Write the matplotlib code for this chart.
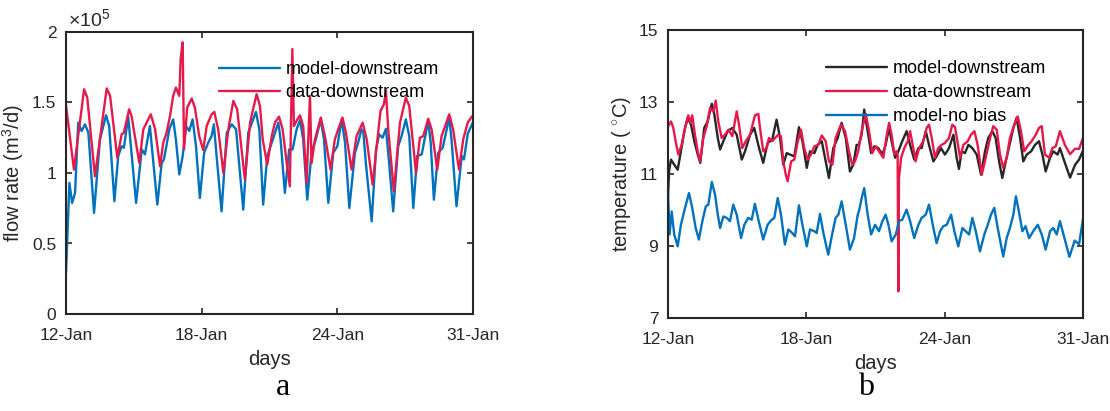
import matplotlib
matplotlib.use("Agg")
import matplotlib.pyplot as plt

plt.rcParams['font.family'] = ['Liberation Sans', 'DejaVu Sans']
plt.rcParams['mathtext.fontset'] = 'custom'
plt.rcParams['mathtext.rm'] = 'Liberation Sans'
plt.rcParams['mathtext.it'] = 'Liberation Sans:italic'

BLUE = '#0072BD'
RED = '#E6194B'
DARK = '#262626'

tick_pos = [0, 6, 12, 18]
tick_labels = ['12-Jan', '18-Jan', '24-Jan', '31-Jan']

# ---- panel a: flow rate (x1e5 m3/d), x in days from 12-Jan ----
flow_data_days = [0.0, 0.35, 0.80, 0.94, 1.28, 1.80, 1.95, 2.27, 2.46, 2.56, 2.79, 2.90,
                  3.24, 3.42, 3.75, 3.94, 4.16, 4.30, 4.45, 4.60, 4.74, 4.86, 5.01, 5.07,
                  5.16, 5.22, 5.36, 5.56, 5.70, 5.89, 6.07, 6.22, 6.44, 6.56, 6.73, 6.96,
                  7.18, 7.40, 7.57, 7.91, 8.14, 8.43, 8.58, 8.70, 8.90, 9.10, 9.24, 9.42,
                  9.58, 9.76, 9.90, 10.01, 10.08, 10.23, 10.35, 10.49, 10.64, 10.79, 10.86,
                  11.01, 11.27, 11.45, 11.70, 11.89, 12.04, 12.23, 12.38, 12.63, 12.85,
                  13.12, 13.30, 13.56, 13.74, 13.91, 14.06, 14.15, 14.25, 14.50, 14.77,
                  15.03, 15.18, 15.48, 15.65, 15.80, 16.02, 16.17, 16.42, 16.61, 16.95,
                  17.12, 17.38, 17.57, 17.77, 18.0]
flow_data = [1.48, 1.025, 1.594, 1.535, 0.977, 1.60, 1.547, 1.108, 1.274, 1.286, 1.452, 1.404,
             1.072, 1.31, 1.416, 1.31, 1.048, 1.215, 1.286, 1.404, 1.547, 1.606, 1.547, 1.808,
             1.927, 1.167, 1.464, 1.528, 1.464, 1.262, 1.162, 1.333, 1.416, 1.433, 1.31, 1.001,
             1.31, 1.511, 1.452, 0.954, 1.357, 1.559, 1.475, 1.238, 1.06, 1.262, 1.357, 1.40,
             1.31, 1.072, 0.906, 1.879, 1.333, 1.38, 1.409, 1.333, 0.93, 1.547, 1.07,
             1.238, 1.393, 1.262, 1.025, 1.238, 1.31, 1.393, 1.286, 1.025, 1.262,
             1.357, 1.238, 0.918, 1.19, 1.44, 1.488, 1.582, 1.31, 0.87, 1.357,
             1.535, 1.475, 1.001, 1.25, 1.262, 1.385, 1.31, 1.025, 1.262, 1.416,
             1.31, 1.025, 1.24, 1.36, 1.41]

flow_model_days = [0.0, 0.15, 0.27, 0.40, 0.54, 0.69, 0.84, 0.99, 1.24, 1.50, 1.65, 1.77,
                   1.91, 2.14, 2.31, 2.46, 2.56, 2.75, 3.10, 3.35, 3.49, 3.71, 4.04, 4.23,
                   4.33, 4.45, 4.57, 4.74, 4.86, 5.01, 5.16, 5.31, 5.45, 5.60, 5.75, 5.92,
                   6.11, 6.29, 6.44, 6.54, 6.66, 6.88, 7.11, 7.33, 7.52, 7.84, 8.06, 8.40,
                   8.55, 8.72, 8.90, 9.10, 9.39, 9.49, 9.68, 9.87, 10.02, 10.20, 10.35,
                   10.49, 10.67, 10.86, 11.05, 11.26, 11.41, 11.60, 11.82, 12.00, 12.19,
                   12.34, 12.53, 12.78, 12.92, 13.07, 13.15, 13.26, 13.52, 13.71, 13.85,
                   14.00, 14.15, 14.29, 14.47, 14.69, 14.84, 15.03, 15.18, 15.36, 15.53,
                   15.73, 16.02, 16.13, 16.27, 16.46, 16.66, 16.95, 17.05, 17.27, 17.50,
                   17.60, 17.77, 18.0]
flow_model = [0.29, 0.93, 0.788, 0.859, 1.357, 1.298, 1.345, 1.286, 0.717, 1.238, 1.333, 1.409,
              1.333, 0.80, 1.12, 1.19, 1.179, 1.40, 0.788, 1.167, 1.132, 1.333, 0.776, 1.07,
              1.096, 1.20, 1.31, 1.38, 1.238, 0.99, 1.12, 1.333, 1.298, 1.38, 1.19, 0.823,
              1.144, 1.215, 1.262, 1.345, 1.12, 0.728, 1.286, 1.345, 1.31, 0.74, 1.286, 1.433,
              1.31, 0.776, 1.12, 1.215, 1.357, 1.238, 0.859, 1.167, 1.167, 1.31, 1.376,
              1.238, 0.811, 1.144, 1.238, 1.38, 1.238, 0.788, 1.144, 1.19, 1.38,
              1.215, 0.752, 1.144, 1.215, 1.31, 1.29, 1.072, 0.657, 1.167, 1.274,
              1.25, 1.314, 1.072, 0.728, 1.19, 1.262, 1.38, 1.262, 0.752, 1.12,
              1.132, 1.369, 1.215, 0.811, 1.144, 1.179, 1.393, 1.238, 0.764, 1.12,
              1.096, 1.28, 1.36]

# ---- panel b: temperature (deg C) ----
temp_data_days = [0.01, 0.13, 0.23, 0.33, 0.45, 0.59, 0.74, 0.88, 0.97, 1.05, 1.17, 1.29,
                  1.39, 1.53, 1.68, 1.82, 1.97, 2.07, 2.18, 2.33, 2.47, 2.62, 2.79, 2.98,
                  3.08, 3.22, 3.37, 3.56, 3.77, 3.92, 3.99, 4.13, 4.28, 4.38, 4.52, 4.64,
                  4.78, 4.90, 5.00, 5.11, 5.19, 5.34, 5.48, 5.63, 5.77, 5.91, 6.06, 6.20,
                  6.35, 6.52, 6.67, 6.84, 6.98, 7.13, 7.27, 7.50, 7.68, 7.85, 7.99, 8.11,
                  8.25, 8.40, 8.58, 8.72, 8.86, 9.01, 9.15, 9.34, 9.49, 9.59, 9.70, 9.82,
                  9.90, 9.96, 9.99, 10.02, 10.11, 10.25, 10.40, 10.50, 10.64, 10.74, 10.89,
                  11.07, 11.22, 11.32, 11.44, 11.58, 11.72, 11.87, 12.01, 12.19, 12.33,
                  12.45, 12.67, 12.81, 13.00, 13.14, 13.29, 13.43, 13.61, 13.78, 13.97,
                  14.11, 14.26, 14.40, 14.54, 14.69, 14.83, 15.02, 15.17, 15.31, 15.45,
                  15.63, 15.77, 15.95, 16.09, 16.21, 16.35, 16.53, 16.67, 16.82, 17.00,
                  17.22, 17.44, 17.65, 17.83, 18.0]
temp_data = [12.33, 12.46, 12.28, 11.91, 11.54, 11.81, 12.28, 12.63, 12.42, 12.63, 12.09, 11.63,
             11.35, 12.0, 12.33, 12.83, 12.74, 13.04, 12.46, 12.0, 12.09, 12.23, 12.05, 12.74,
             12.37, 11.72, 11.91, 12.09, 12.63, 12.67, 12.28, 11.63, 11.72, 12.0, 11.91, 12.0,
             12.09, 12.05, 11.35, 10.98, 10.8, 11.35, 11.4, 11.91, 12.23, 11.72, 11.4, 11.54,
             11.77, 11.81, 12.07, 11.91, 11.35, 11.26, 12.0, 12.37, 12.19, 11.63, 11.26, 11.35,
             11.63, 12.19, 12.67, 12.19, 11.58, 11.77, 11.63, 11.45, 12.09, 12.42, 12.09, 11.54,
             11.63, 11.54, 7.74, 10.89, 11.45, 11.72, 11.91, 12.19, 11.72, 11.35, 11.72,
             11.91, 12.28, 12.37, 12.0, 11.45, 11.72, 11.81, 11.86, 12.0, 12.37,
             12.3, 11.45, 11.81, 11.91, 12.09, 12.19, 11.81, 10.98, 11.45, 12.0,
             12.33, 12.23, 11.54, 11.17, 11.45, 12.0, 12.37, 12.6, 12.19, 11.63,
             11.81, 11.91, 12.09, 12.28, 12.33, 11.54, 11.45, 11.72, 11.77, 12.19,
             11.8, 11.55, 11.7, 11.7, 12.0]

temp_model_days = [0.0, 0.05, 0.13, 0.27, 0.42, 0.56, 0.71, 0.85, 1.00, 1.14, 1.29, 1.40,
                   1.57, 1.72, 1.90, 2.01, 2.16, 2.26, 2.40, 2.59, 2.79, 2.98, 3.20, 3.34,
                   3.56, 3.74, 3.95, 4.13, 4.32, 4.52, 4.71, 4.86, 5.00, 5.15, 5.29, 5.48,
                   5.68, 5.83, 6.02, 6.16, 6.35, 6.49, 6.67, 6.84, 6.98, 7.17, 7.36, 7.53,
                   7.71, 7.89, 8.04, 8.18, 8.27, 8.40, 8.51, 8.66, 8.81, 8.95, 9.12, 9.30,
                   9.44, 9.59, 9.73, 9.85, 9.99, 10.16, 10.35, 10.50, 10.68, 10.86, 11.00,
                   11.18, 11.32, 11.51, 11.65, 11.84, 12.01, 12.19, 12.38, 12.52, 12.62,
                   12.74, 12.88, 13.03, 13.20, 13.39, 13.58, 13.75, 13.89, 14.07, 14.21,
                   14.36, 14.50, 14.65, 14.83, 14.98, 15.12, 15.27, 15.41, 15.56, 15.75,
                   15.92, 16.09, 16.24, 16.38, 16.57, 16.71, 16.90, 17.00, 17.22, 17.44,
                   17.65, 17.83, 18.0]
temp_model = [10.4, 11.1, 11.4, 11.26, 11.12, 11.63, 12.19, 12.56, 12.37, 11.91, 11.54, 11.31,
              12.28, 12.46, 12.95, 12.65, 12.0, 11.68, 11.91, 12.19, 12.28, 12.09, 11.4, 11.63,
              12.09, 12.28, 11.72, 11.31, 11.86, 11.95, 12.51, 12.0, 11.26, 11.58, 11.54, 11.49,
              12.3, 11.91, 11.17, 11.63, 11.58, 11.81, 11.91, 11.35, 10.89, 11.72, 12.0, 12.42,
              12.0, 11.07, 11.26, 11.81, 11.8, 12.09, 12.79, 12.19, 11.58, 11.77, 11.72, 11.54,
              11.81, 12.28, 11.81, 11.45, 11.63, 11.91, 12.19, 11.81, 11.4, 11.72, 11.72,
              12.19, 11.81, 11.35, 11.49, 11.72, 11.54, 11.72, 12.09, 11.45, 11.14,
              11.63, 11.58, 11.81, 11.72, 11.54, 10.98, 11.63, 12.0, 12.19, 12.0,
              11.35, 10.89, 11.35, 11.86, 12.28, 12.56, 12.0, 11.35, 11.54, 11.63,
              11.81, 11.91, 11.54, 11.07, 11.45, 11.63, 11.54, 11.72, 11.3, 10.9,
              11.25, 11.4, 11.65]

temp_nobias_days = [0.0, 0.07, 0.16, 0.27, 0.42, 0.56, 0.74, 0.91, 1.05, 1.20, 1.34, 1.49,
                    1.64, 1.75, 1.90, 2.04, 2.16, 2.26, 2.40, 2.55, 2.69, 2.83, 2.98, 3.17,
                    3.31, 3.48, 3.63, 3.77, 3.92, 4.13, 4.32, 4.50, 4.61, 4.76, 4.90, 5.07,
                    5.22, 5.39, 5.51, 5.68, 5.83, 6.02, 6.16, 6.35, 6.45, 6.59, 6.74, 6.95,
                    7.13, 7.27, 7.39, 7.53, 7.71, 7.89, 8.07, 8.23, 8.30, 8.40, 8.51, 8.66,
                    8.81, 8.98, 9.15, 9.30, 9.44, 9.56, 9.70, 9.88, 10.02, 10.16, 10.35,
                    10.50, 10.68, 10.86, 11.00, 11.18, 11.32, 11.51, 11.65, 11.80, 11.94,
                    12.09, 12.28, 12.42, 12.59, 12.77, 12.91, 13.06, 13.20, 13.35, 13.53,
                    13.72, 13.87, 14.01, 14.15, 14.30, 14.54, 14.69, 14.83, 14.98, 15.09,
                    15.22, 15.37, 15.51, 15.66, 15.84, 16.04, 16.21, 16.38, 16.57, 16.71,
                    16.86, 17.00, 17.41, 17.64, 17.83, 18.0]
temp_nobias = [10.47, 9.32, 9.96, 9.32, 8.99, 9.59, 10.06, 10.47, 10.06, 9.5, 9.18, 9.69,
               10.1, 10.15, 10.78, 10.43, 9.87, 9.5, 9.82, 9.78, 9.69, 10.15, 9.87, 9.22,
               9.59, 9.78, 9.73, 10.17, 9.73, 9.18, 9.59, 9.73, 9.78, 10.33, 9.87, 9.04,
               9.46, 9.36, 9.27, 10.13, 9.59, 8.99, 9.46, 9.41, 9.36, 9.89, 9.36, 8.76,
               9.36, 9.78, 9.87, 10.24, 9.59, 8.9, 9.22, 9.87, 10.01, 10.33, 10.61, 9.87,
               9.32, 9.59, 9.41, 9.69, 9.87, 9.59, 9.13, 9.32, 9.69, 9.73, 10.01,
               9.69, 9.22, 9.59, 9.78, 9.87, 10.15, 9.5, 9.08, 9.41, 9.55,
               9.59, 9.87, 9.41, 8.99, 9.5, 9.41, 9.32, 9.78, 9.41, 8.85,
               9.32, 9.59, 9.87, 10.06, 9.5, 8.71, 9.22, 9.5, 9.87, 10.38,
               9.96, 9.41, 9.55, 9.22, 9.41, 9.59, 9.32, 8.9, 9.41, 9.5,
               9.32, 9.69, 8.7, 9.15, 9.05, 9.75]

fig = plt.figure(figsize=(11.1, 4.11), dpi=100)
ax1 = fig.add_axes([66 / 1110, 97 / 411, 407 / 1110, 282 / 411])
ax2 = fig.add_axes([668 / 1110, 93 / 411, 415 / 1110, 288 / 411])

line_kw = dict(lw=1.7, solid_joinstyle='round', solid_capstyle='round')

ax1.plot(flow_model_days, flow_model, color=BLUE, label='model-downstream', **line_kw)
ax1.plot(flow_data_days, flow_data, color=RED, label='data-downstream', **line_kw)
ax1.set_ylim(0, 2)
ax1.set_yticks([0, 0.5, 1, 1.5, 2])
ax1.set_yticklabels(['0', '0.5', '1', '1.5', '2'])
ax1.set_ylabel('flow rate (m$^3$/d)', fontsize=14.5, labelpad=4)
ax1.text(0.005, 1.005, r'$\times10^{5}$', transform=ax1.transAxes, fontsize=14,
         color=DARK, va='bottom', ha='left')
ax1.legend(loc='center left', bbox_to_anchor=(0.375, 0.826), frameon=False,
           fontsize=13, handlelength=3.4, handletextpad=0.3, labelspacing=0.35,
           borderpad=0, borderaxespad=0)

ax2.plot(temp_model_days, temp_model, color=DARK, label='model-downstream', **line_kw)
ax2.plot(temp_data_days, temp_data, color=RED, label='data-downstream', **line_kw)
ax2.plot(temp_nobias_days, temp_nobias, color=BLUE, label='model-no bias', **line_kw)
ax2.set_ylim(7, 15)
ax2.set_yticks([7, 9, 11, 13, 15])
ax2.set_ylabel('temperature ( $^{\\circ}$C)', fontsize=14.5, labelpad=4)
ax2.legend(loc='center left', bbox_to_anchor=(0.38, 0.783), frameon=False,
           fontsize=13, handlelength=3.4, handletextpad=0.3, labelspacing=0.38,
           borderpad=0, borderaxespad=0)

for ax in (ax1, ax2):
    ax.set_xlim(0, 18)
    ax.set_xticks(tick_pos)
    ax.set_xticklabels(tick_labels)
    ax.set_xlabel('days', fontsize=14.5, labelpad=5)
    ax.tick_params(direction='in', top=True, right=True, length=4, width=1.2,
                   labelsize=12.5, colors=DARK)
    ax.tick_params(axis='x', pad=10)
    ax.tick_params(axis='y', pad=7)
    for s in ax.spines.values():
        s.set_linewidth(1.5)
        s.set_color(DARK)
    ax.xaxis.label.set_color(DARK)
    ax.yaxis.label.set_color(DARK)

fig.text(283 / 1110, 16 / 411, 'a', family='Liberation Serif', fontsize=23, ha='center', va='baseline')
fig.text(866 / 1110, 16 / 411, 'b', family='Liberation Serif', fontsize=23, ha='center', va='baseline')

fig.savefig('out.png', dpi=100)
